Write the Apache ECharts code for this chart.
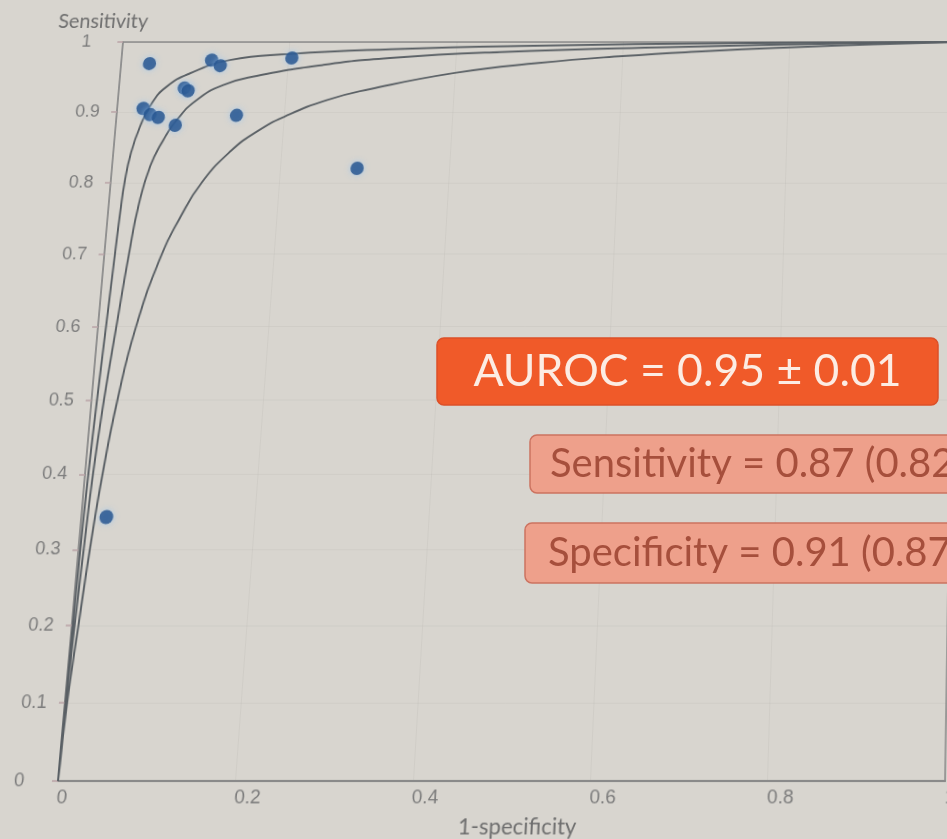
<!DOCTYPE html>
<html>
<head>
<meta charset="utf-8">
<title>SROC</title>
<script src="https://cdn.jsdelivr.net/npm/echarts@6/dist/echarts.min.js"></script>
<style>
  html, body { margin: 0; padding: 0; width: 947px; height: 839px; overflow: hidden; background: #d8d5cf; }
  #wrap { position: relative; width: 947px; height: 839px; overflow: hidden; }
  #plot { position: absolute; transform-origin: 0 0; }
  #notes { position: absolute; left: 0; top: 0; width: 947px; height: 839px; }
</style>
</head>
<body>
<div id="wrap">
  <div id="plot"></div>
  <div id="notes"></div>
</div>
<script>
// Individual studies: false positive rate (1-specificity) and sensitivity
const studyFpr = [0.034, 0.108, 0.119, 0.204, 0.078, 0.083, 0.031, 0.040, 0.050, 0.071, 0.143, 0.291, 0.029];
const studyTpr = [0.969, 0.974, 0.966, 0.977, 0.934, 0.930, 0.905, 0.896, 0.892, 0.881, 0.895, 0.820, 0.343];

// Upper curve
const upperX = [0, 0.0006, 0.0013, 0.0022, 0.0039, 0.0064, 0.0096, 0.0125, 0.0145, 0.0165, 0.021, 0.0291, 0.0407, 0.0569, 0.0835, 0.1301, 0.2015, 0.3209, 0.476, 0.752, 1];
const upperY = [0, 0.101, 0.2035, 0.303, 0.402, 0.5, 0.605, 0.700, 0.760, 0.800, 0.8413, 0.8789, 0.9122, 0.9359, 0.955, 0.9741, 0.9827, 0.9895, 0.9943, 0.9986, 1];

// Summary ROC curve
const middleX = [0, 0.0011, 0.0034, 0.0062, 0.0093, 0.0145, 0.0219, 0.029, 0.0352, 0.0451, 0.0582, 0.0722, 0.0941, 0.1244, 0.1635, 0.2419, 0.3216, 0.453, 0.655, 0.896, 1];
const middleY = [0, 0.101, 0.2035, 0.303, 0.402, 0.5, 0.605, 0.700, 0.7662, 0.8224, 0.860, 0.8884, 0.9169, 0.9383, 0.9512, 0.967, 0.977, 0.9855, 0.9925, 0.9986, 1];

// Lower curve
const lowerX = [0, 0.0025, 0.0077, 0.0132, 0.0203, 0.0302, 0.0446, 0.0677, 0.0854, 0.108, 0.14, 0.17, 0.2, 0.25, 0.3, 0.4, 0.5, 0.6, 0.7, 0.8, 0.9, 1];
const lowerY = [0, 0.1, 0.2, 0.3, 0.4, 0.5, 0.6, 0.7, 0.75, 0.8, 0.845, 0.873, 0.893, 0.917, 0.9324, 0.9555, 0.9698, 0.9797, 0.9868, 0.9923, 0.9966, 1];

const xTicks = [0, 0.2, 0.4, 0.6, 0.8, 1];
const yTicks = [0, 0.1, 0.2, 0.3, 0.4, 0.5, 0.6, 0.7, 0.8, 0.9, 1];

const aurocText = 'AUROC = 0.95 ± 0.01';
const sensText = 'Sensitivity = 0.87 (0.82';
const specText = 'Specificity = 0.91 (0.87';

// ---- plot panel, laid out as a rectangle then tilted in perspective ----
const PAD = 100;
const plotW = 947 + 2 * PAD, plotH = 839 + 2 * PAD;
const gridL = 58, gridT = 42, gridW = 887, gridH = 739;

function solveHomography(src, dst) {
  const A = [], B = [];
  for (let i = 0; i < 4; i++) {
    const [x, y] = src[i], [X, Y] = dst[i];
    A.push([x, y, 1, 0, 0, 0, -x * X, -y * X]); B.push(X);
    A.push([0, 0, 0, x, y, 1, -x * Y, -y * Y]); B.push(Y);
  }
  const n = 8;
  for (let c = 0; c < n; c++) {
    let p = c;
    for (let r = c + 1; r < n; r++) if (Math.abs(A[r][c]) > Math.abs(A[p][c])) p = r;
    [A[c], A[p]] = [A[p], A[c]]; [B[c], B[p]] = [B[p], B[c]];
    for (let r = 0; r < n; r++) {
      if (r === c) continue;
      const f = A[r][c] / A[c][c];
      for (let k = c; k < n; k++) A[r][k] -= f * A[c][k];
      B[r] -= f * B[c];
    }
  }
  return B.map((v, i) => v / A[i][i]);
}

const L = gridL + PAD, T = gridT + PAD;
const srcQuad = [[L, T], [L + gridW, T], [L + gridW, T + gridH], [L, T + gridH]];
const dstQuad = [[123 + PAD, 42 + PAD], [956.5 + PAD, 42 + PAD], [945 + PAD, 781 + PAD], [58 + PAD, 781 + PAD]];
const [ha, hb, hc, hd, he, hf, hg, hh] = solveHomography(srcQuad, dstQuad);

const plotEl = document.getElementById('plot');
plotEl.style.left = (-PAD) + 'px';
plotEl.style.top = (-PAD) + 'px';
plotEl.style.width = plotW + 'px';
plotEl.style.height = plotH + 'px';
plotEl.style.transform = `matrix3d(${ha},${hd},0,${hg},${hb},${he},0,${hh},0,0,1,0,${hc},${hf},0,1)`;

const pairs = (xs, ys) => xs.map((x, i) => [x, ys[i]]);
const curveStyle = { color: '#5a6065', width: 2 };
const tickFmt = list => v => list.includes(+v.toFixed(1)) ? String(+v.toFixed(1)) : '';

const plot = echarts.init(plotEl, null, { renderer: 'canvas' });
plot.setOption({
  backgroundColor: 'transparent',
  animation: false,
  grid: {
    left: L, top: T, width: gridW, height: gridH,
    show: true, borderColor: '#8b8b8b', borderWidth: 1.5, backgroundColor: 'transparent'
  },
  xAxis: {
    type: 'value', min: 0, max: 1, interval: 0.2,
    name: '1-specificity', nameLocation: 'middle', nameGap: 43,
    nameTextStyle: { fontFamily: 'Lato', fontSize: 22, color: '#6e6e6e', verticalAlign: 'middle', padding: [0, 0, 0, 36] },
    axisLine: { show: true, lineStyle: { color: '#8a8a8a', width: 2 } },
    axisTick: { show: false },
    axisLabel: {
      margin: 6, fontFamily: 'Liberation Sans', fontSize: 19, color: '#7c7c7c', align: 'left',
      formatter: tickFmt(xTicks)
    },
    splitLine: { show: true, lineStyle: { color: 'rgba(0,0,0,0.035)', width: 1 } }
  },
  yAxis: {
    type: 'value', min: 0, max: 1, interval: 0.1,
    name: 'Sensitivity', nameLocation: 'end', nameGap: 22,
    nameTextStyle: { fontFamily: 'Lato', fontSize: 21, color: '#6e6e6e', align: 'center', verticalAlign: 'middle', padding: [0, 46, 0, 0] },
    axisLine: { show: true, lineStyle: { color: '#8e8e8e', width: 1.5 } },
    axisTick: { show: true, length: 6, lineStyle: { color: '#b9a2a6', width: 1.5 } },
    axisLabel: {
      margin: 44, align: 'left', fontFamily: 'Liberation Sans', fontSize: 18.5, color: '#7c7c7c',
      formatter: tickFmt(yTicks)
    },
    splitLine: { show: true, lineStyle: { color: 'rgba(0,0,0,0.035)', width: 1 } }
  },
  series: [
    { type: 'line', data: pairs(upperX, upperY), smooth: 0.5, showSymbol: false, lineStyle: curveStyle, z: 2 },
    { type: 'line', data: pairs(middleX, middleY), smooth: 0.5, showSymbol: false, lineStyle: curveStyle, z: 2 },
    { type: 'line', data: pairs(lowerX, lowerY), smooth: 0.5, showSymbol: false, lineStyle: curveStyle, z: 2 },
    {
      type: 'scatter', data: pairs(studyFpr, studyTpr), symbolSize: 14, z: 5,
      itemStyle: { color: '#1f4f8b', shadowBlur: 6, shadowColor: 'rgba(150,195,240,0.9)' }
    }
  ]
});

// ---- summary statistics boxes ----
const notes = echarts.init(document.getElementById('notes'), null, { renderer: 'canvas' });
notes.setOption({
  backgroundColor: 'transparent',
  animation: false,
  graphic: [
    {
      type: 'rect', shape: { x: 437, y: 338, width: 501, height: 67, r: 7 },
      style: { fill: '#f05a29', stroke: '#dc5028', lineWidth: 1.5 }
    },
    {
      type: 'text', x: 687.5, y: 372,
      style: { text: aurocText, fill: '#fcece3', font: '44.5px Lato', textAlign: 'center', textVerticalAlign: 'middle' }
    },
    {
      type: 'rect', shape: { x: 530, y: 435, width: 440, height: 58, r: 7 },
      style: { fill: '#eea08b', stroke: '#cc7360', lineWidth: 1.5 }
    },
    {
      type: 'text', x: 550, y: 464,
      style: { text: sensText, fill: '#a64f3c', font: '40px Lato', textAlign: 'left', textVerticalAlign: 'middle' }
    },
    {
      type: 'rect', shape: { x: 525, y: 523, width: 445, height: 60, r: 7 },
      style: { fill: '#eea08b', stroke: '#cc7360', lineWidth: 1.5 }
    },
    {
      type: 'text', x: 548, y: 553,
      style: { text: specText, fill: '#a64f3c', font: '40px Lato', textAlign: 'left', textVerticalAlign: 'middle' }
    }
  ]
});
</script>
</body>
</html>
